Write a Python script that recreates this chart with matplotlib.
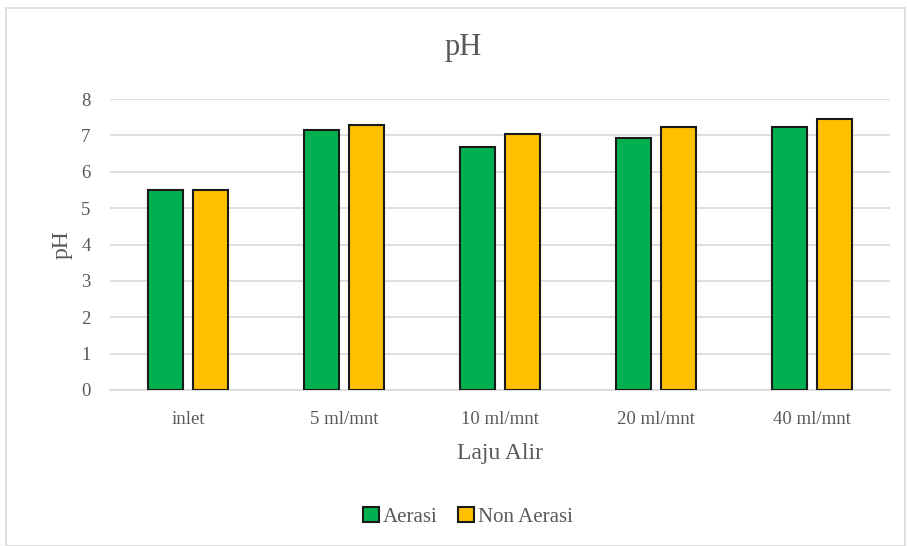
import matplotlib
matplotlib.use("Agg")
import matplotlib.pyplot as plt
from matplotlib.patches import Rectangle
import numpy as np

categories = ["inlet", "5 ml/mnt", "10 ml/mnt", "20 ml/mnt", "40 ml/mnt"]
aerasi = [5.5, 7.16, 6.67, 6.93, 7.23]
non_aerasi = [5.5, 7.28, 7.04, 7.23, 7.45]
yticks = [0, 1, 2, 3, 4, 5, 6, 7, 8]

plt.rcParams["font.family"] = ["Liberation Serif", "DejaVu Serif"]

fig = plt.figure(figsize=(9.07, 5.46), dpi=100)
# chart frame
fig.patches.append(Rectangle((6 / 907, 0), 899 / 907, 1 - 8 / 546,
                             transform=fig.transFigure, fill=False,
                             edgecolor="#d9d9d9", linewidth=1.2))

ax = fig.add_axes([110 / 907, 1 - 390 / 546, 780 / 907, 291 / 546])
x = np.arange(len(categories))
w = 0.224
gap = 0.064
ax.bar(x - (w + gap) / 2, aerasi, w, color="#00b050", edgecolor="#1a1a1a",
       linewidth=1.5, label="Aerasi", zorder=3)
ax.bar(x + (w + gap) / 2, non_aerasi, w, color="#ffc000", edgecolor="#1a1a1a",
       linewidth=1.5, label="Non Aerasi", zorder=3)

ax.set_xlim(-0.5, len(categories) - 0.5)
ax.set_ylim(0, 8)
ax.set_yticks(yticks)
ax.set_xticks(x)
ax.set_xticklabels(categories)
ax.yaxis.grid(True, color="#d9d9d9", linewidth=1.2, zorder=0)
for s in ["top", "right", "left"]:
    ax.spines[s].set_visible(False)
ax.spines["bottom"].set_color("#d9d9d9")
ax.spines["bottom"].set_linewidth(1.2)
ax.tick_params(axis="both", length=0, colors="#595959", labelsize=13.5)
ax.tick_params(axis="x", pad=15)
ax.tick_params(axis="y", pad=14)

ax.set_xlabel("Laju Alir", fontsize=17, color="#595959", labelpad=11)
ax.set_ylabel("pH", fontsize=17, color="#595959", labelpad=6)
fig.text(463 / 907, 1 - 48 / 546, "pH", fontsize=22, color="#595959",
         ha="center", va="center")

fig.legend(loc="center", bbox_to_anchor=(468 / 907, 1 - 517 / 546), ncol=2,
           frameon=False, fontsize=15, handlelength=0.75, handleheight=0.75,
           handletextpad=0.2, columnspacing=1.0, labelcolor="#595959")

fig.savefig("out.png", dpi=100)
